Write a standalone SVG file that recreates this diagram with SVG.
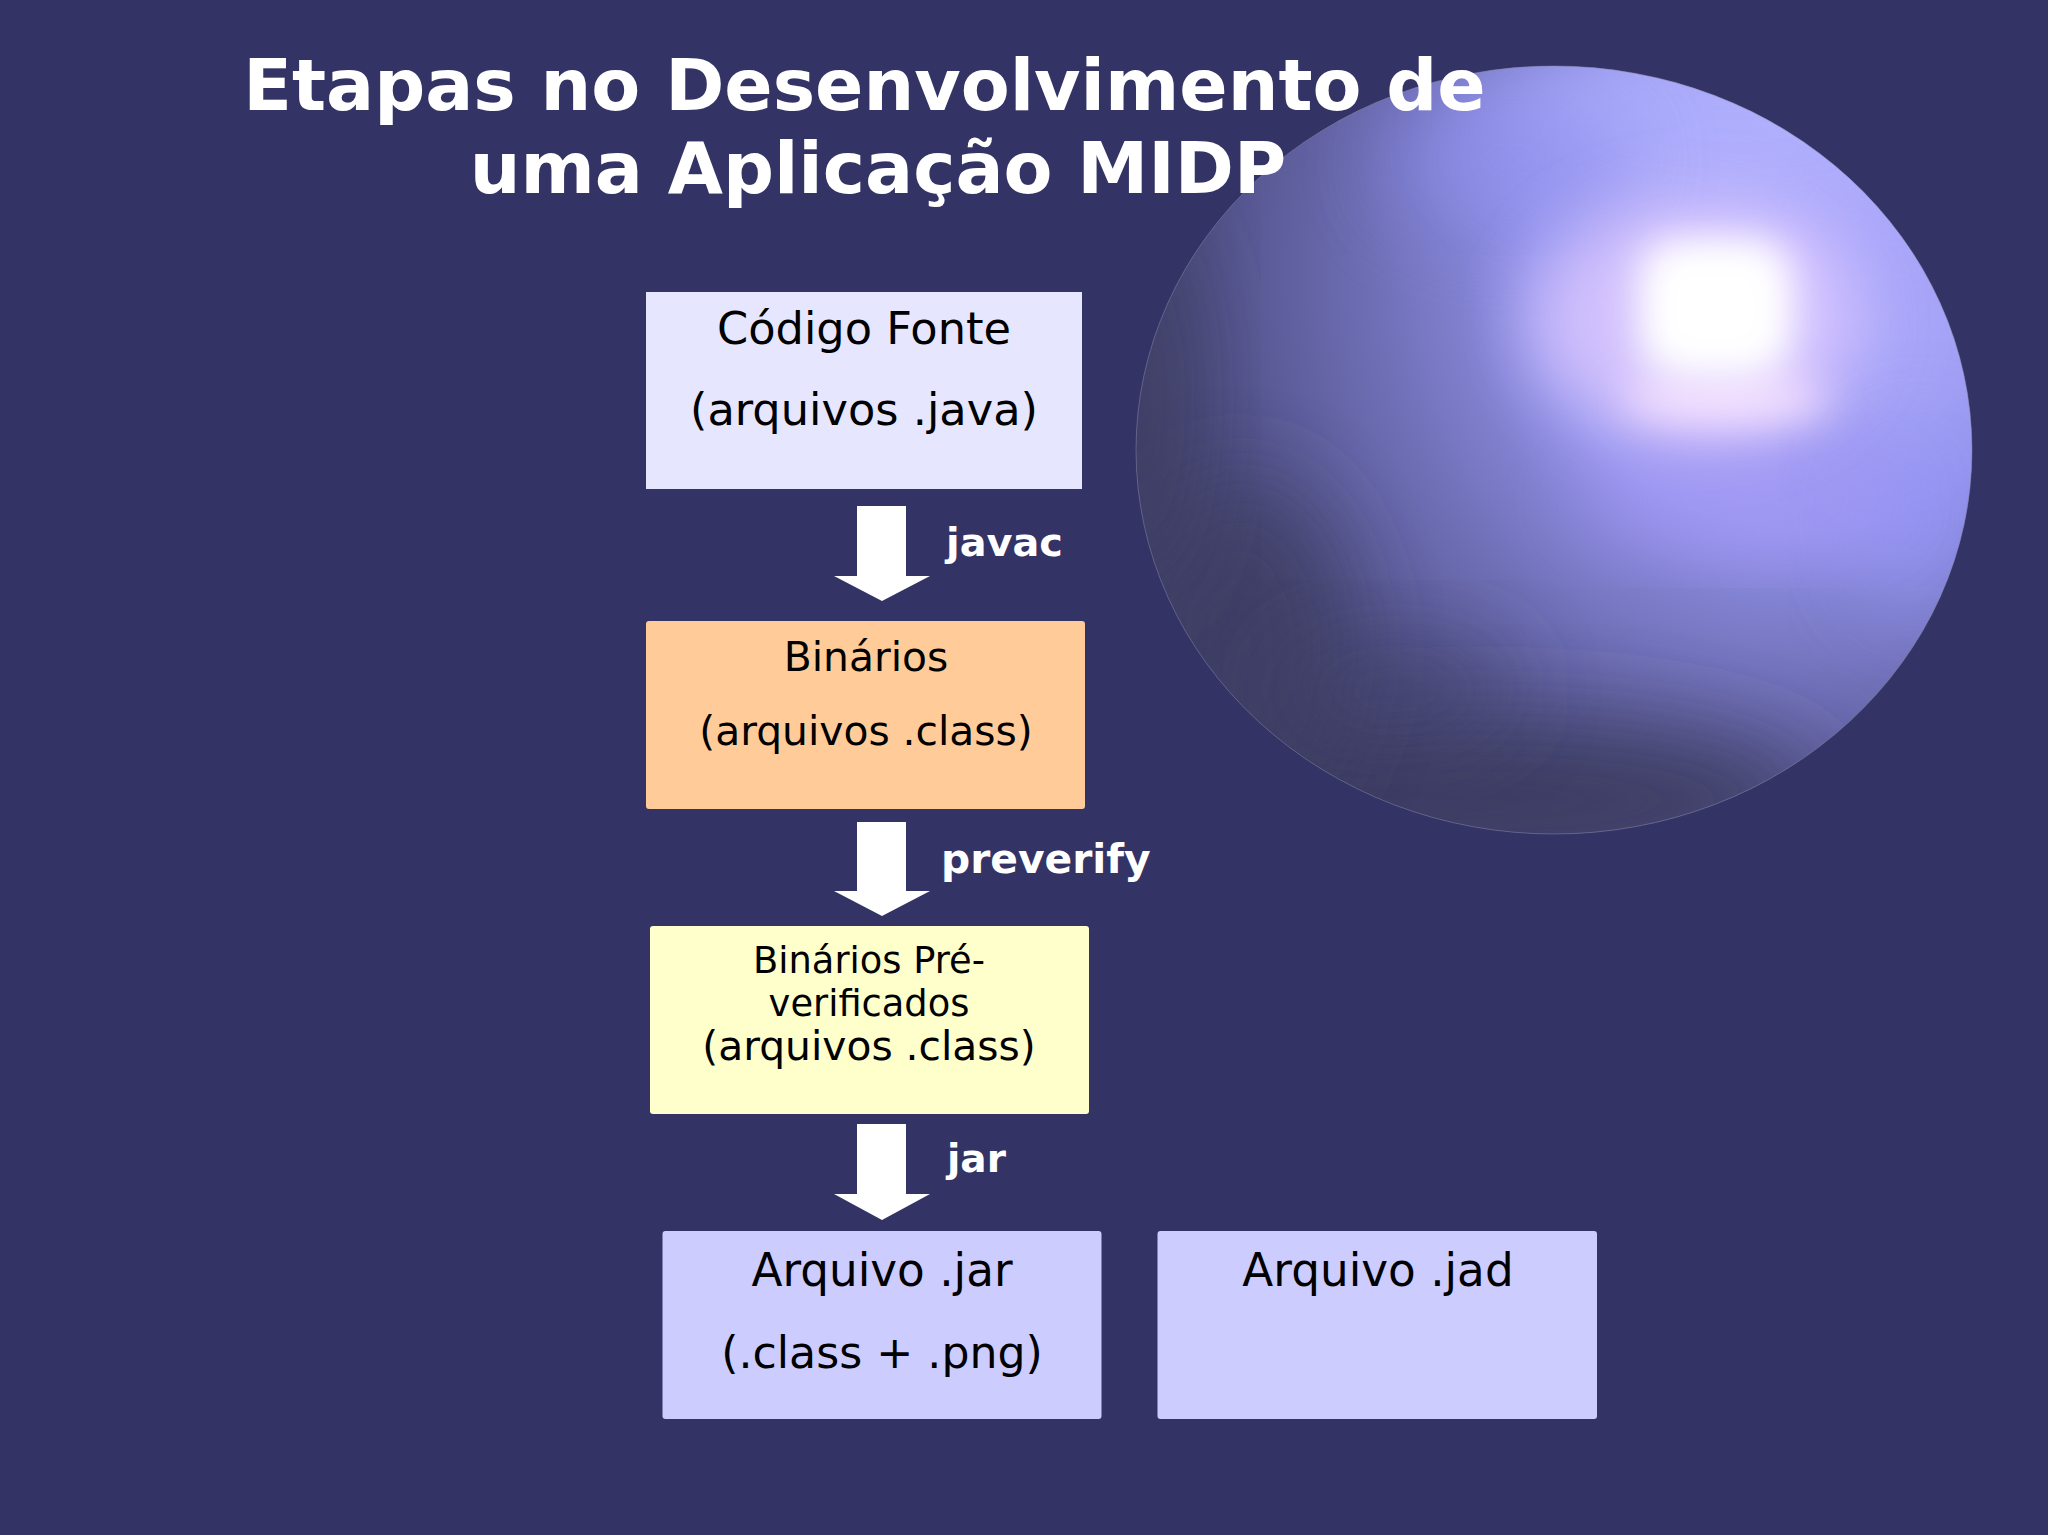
<svg xmlns="http://www.w3.org/2000/svg" width="2048" height="1535" viewBox="0 0 2048 1535">
<style>
text{font-family:"DejaVu Sans",sans-serif;text-anchor:middle;fill:#000}
.t{font-size:71.3px;font-weight:700;fill:#fff}
.l{font-size:40.5px;font-weight:700;fill:#fff;text-anchor:start}
.a{font-size:44.7px}.b{font-size:40.8px}.c{font-size:36.8px}.d{font-size:45.3px}.e{font-size:44.2px}
.arrow{fill:#fff}
</style>
<defs>
<clipPath id="sc"><ellipse cx="1554" cy="450" rx="418" ry="384"/></clipPath>
<radialGradient id="base" gradientUnits="userSpaceOnUse" cx="1800" cy="270" r="790">
<stop offset="0" stop-color="#b8b0ff"/><stop offset=".33" stop-color="#9696ee"/><stop offset=".43" stop-color="#8080cf"/><stop offset=".56" stop-color="#6c6cb2"/><stop offset=".72" stop-color="#565690"/><stop offset=".86" stop-color="#42426c"/><stop offset="1" stop-color="#3e3e62"/>
</radialGradient>
<filter id="b0" x="-60%" y="-100%" width="220%" height="300%"><feGaussianBlur stdDeviation="20"/></filter>
<filter id="b1" x="-60%" y="-60%" width="220%" height="220%"><feGaussianBlur stdDeviation="34"/></filter>
<filter id="b2" x="-60%" y="-60%" width="220%" height="220%"><feGaussianBlur stdDeviation="45"/></filter>
</defs>
<rect width="2048" height="1535" fill="#333366"/>
<g id="sphere">
<g clip-path="url(#sc)">
<rect x="1130" y="60" width="850" height="780" fill="url(#base)"/>
<ellipse cx="1740" cy="130" rx="260" ry="90" fill="#b0b0fd" opacity=".9" filter="url(#b2)"/>
<ellipse cx="1510" cy="160" rx="120" ry="70" fill="#8f8fee" opacity=".75" filter="url(#b2)"/>
<ellipse cx="1900" cy="330" rx="60" ry="130" fill="#a8a8fa" opacity=".7" filter="url(#b2)"/>
<ellipse cx="1920" cy="520" rx="60" ry="90" fill="#9494f4" opacity=".8" filter="url(#b2)"/>
<ellipse cx="1740" cy="500" rx="170" ry="40" fill="#a898f8" opacity=".7" filter="url(#b2)"/>
<ellipse cx="1480" cy="800" rx="340" ry="80" fill="#3e3e64" filter="url(#b2)"/>
<ellipse cx="1240" cy="650" rx="110" ry="170" fill="#3f3f66" opacity=".9" filter="url(#b2)"/>
<ellipse cx="1395" cy="690" rx="120" ry="50" fill="#3f3f68" opacity=".65" filter="url(#b2)"/>
<ellipse cx="1140" cy="400" rx="55" ry="200" fill="#3f3f66" opacity=".85" filter="url(#b2)"/>
<ellipse cx="1695" cy="320" rx="165" ry="120" fill="#dcc8ff" opacity=".85" filter="url(#b1)"/>
<ellipse cx="1725" cy="400" rx="105" ry="24" fill="#fbe6ff" opacity=".9" filter="url(#b0)"/>
<rect x="1640" y="240" width="150" height="135" rx="35" fill="#fff" filter="url(#b0)"/>
<rect x="1665" y="262" width="105" height="90" rx="20" fill="#fff" filter="url(#b0)"/>
</g>
<ellipse cx="1554" cy="450" rx="418" ry="384" fill="none" stroke="#8888aa" stroke-opacity=".5"/>
</g>
<g id="title">
<text class="t" x="864.5" y="110">Etapas no Desenvolvimento de</text>
<text class="t" x="878" y="193">uma Aplicação MIDP</text>
</g>
<g id="connectors">
<polygon class="arrow" points="857,506 906,506 906,576 930,576 882,601 834,576 857,576"/>
<polygon class="arrow" points="857,822 906,822 906,891 930,891 882,916 834,891 857,891"/>
<polygon class="arrow" points="857,1124 906,1124 906,1194 930,1194 882,1220 834,1194 857,1194"/>
<text class="l" x="946" y="556" style="font-size:39.8px">javac</text>
<text class="l" x="941" y="873" style="font-size:40.8px">preverify</text>
<text class="l" x="947" y="1172" style="font-size:39px">jar</text>
</g>
<g id="codigo-fonte">
<rect x="646" y="292" width="436" height="197" fill="#e6e6ff"/>
<text class="a" x="864" y="344">Código Fonte</text>
<text class="a" x="864" y="425">(arquivos .java)</text>
</g>
<g id="binarios">
<rect x="646" y="621" width="439" height="188" rx="3" fill="#ffcc99"/>
<text class="b" x="866" y="671">Binários</text>
<text class="b" x="866" y="745">(arquivos .class)</text>
</g>
<g id="preverificados">
<rect x="650" y="926" width="439" height="188" rx="3" fill="#ffffcc"/>
<text class="c" x="869" y="973">Binários Pré-</text>
<text class="c" x="869" y="1016">verificados</text>
<text class="b" x="869" y="1060">(arquivos .class)</text>
</g>
<g id="arquivo-jar">
<rect x="662.5" y="1231" width="439" height="188" rx="3" fill="#ccccff"/>
<text class="d" x="882" y="1286">Arquivo .jar</text>
<text class="e" x="882" y="1368">(.class + .png)</text>
</g>
<g id="arquivo-jad">
<rect x="1157.5" y="1231" width="439.5" height="188" rx="3" fill="#ccccff"/>
<text class="d" x="1378" y="1286">Arquivo .jad</text>
</g>
</svg>
